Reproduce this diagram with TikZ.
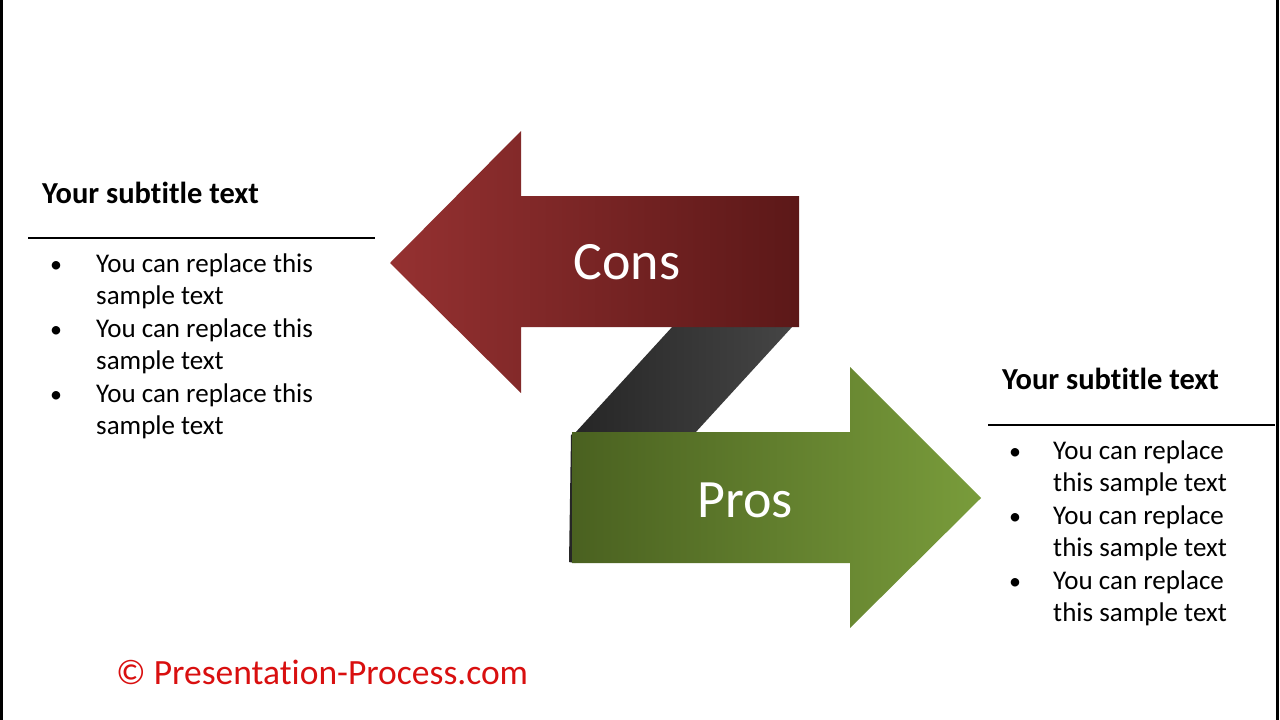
\documentclass[tikz,border=0pt]{standalone}
\usepackage{fontspec}
\setmainfont{Carlito}[Ligatures=NoCommon]
\definecolor{consL}{HTML}{953131}
\definecolor{consR}{HTML}{5C1818}
\definecolor{prosL}{HTML}{4A6120}
\definecolor{prosR}{HTML}{799C3B}
\definecolor{bandL}{HTML}{262626}
\definecolor{bandR}{HTML}{454545}
\definecolor{copyred}{HTML}{D90F0F}
\tikzset{
  bigword/.style={text=white, font=\fontsize{54}{60}\selectfont, anchor=base, inner sep=0pt},
  subtitle/.style={font=\bfseries\fontsize{30.5}{36}\selectfont, anchor=base west, inner sep=0pt},
  bodytext/.style={font=\fontsize{27}{32}\selectfont, anchor=base west, inner sep=0pt},
  bulletmark/.style={font=\fontsize{24}{30}\selectfont, anchor=base west, inner sep=0pt},
  rule/.style={line width=2.2pt, black},
}
\begin{document}
\begin{tikzpicture}[x=1pt,y=-1pt]
\useasboundingbox (0,0) rectangle (1280,720);
\fill[white] (0,0) rectangle (1280,720);
% frame borders
\fill[black] (0,0) rectangle (2.5,720);
\fill[black] (1276,0) rectangle (1278.5,720);
% dark band
\shade[left color=bandL, right color=bandR] (673,326) -- (793,326) -- (695,433) -- (575,433) -- cycle;
% Cons arrow
\shade[left color=consL, right color=consR] (390,263) -- (521,131) -- (521,196) -- (799,196) -- (799,327) -- (521,327) -- (521,393) -- cycle;
% Pros arrow sliver
\fill[bandL] (569,562) -- (571,435) -- (575,432) -- (575,563) -- cycle;
\shade[left color=prosL, right color=prosR] (572,432) -- (850,432) -- (850,367) -- (981,498) -- (850,628) -- (850,563) -- (572,563) -- cycle;
\node[bigword] (cons) at (627,279) {Cons};
\node[bigword] (pros) at (745,517) {Pros};
% left text block
\node[subtitle] (lsub) at (42,203) {Your subtitle text};
\coordinate (lr1) at (28,238);
\coordinate (lr2) at (375,238);
\draw[rule] (lr1) -- (lr2);
\foreach \y/\t in {272/You can replace this, 337/You can replace this, 402/You can replace this} {
  \node[bulletmark] at (50,\y) {•};
  \node[bodytext] at (96,\y) {\t};
}
\foreach \y in {304.5, 369.5, 434.5} {
  \node[bodytext] at (96,\y) {sample text};
}
% right text block
\node[subtitle] (rsub) at (1002,389) {Your subtitle text};
\coordinate (rr1) at (988,425);
\coordinate (rr2) at (1275,425);
\draw[rule] (rr1) -- (rr2);
\foreach \y in {459, 524, 589} {
  \node[bulletmark] at (1009,\y) {•};
  \node[bodytext] at (1053,\y) {You can replace};
}
\foreach \y in {491.5, 556.5, 621.5} {
  \node[bodytext] at (1053,\y) {this sample text};
}
% copyright
\node[font=\fontsize{35.5}{42}\selectfont, text=copyred, anchor=base west, inner sep=0pt] (copy) at (116,684) {© Presentation-Process.com};
\end{tikzpicture}
\end{document}
